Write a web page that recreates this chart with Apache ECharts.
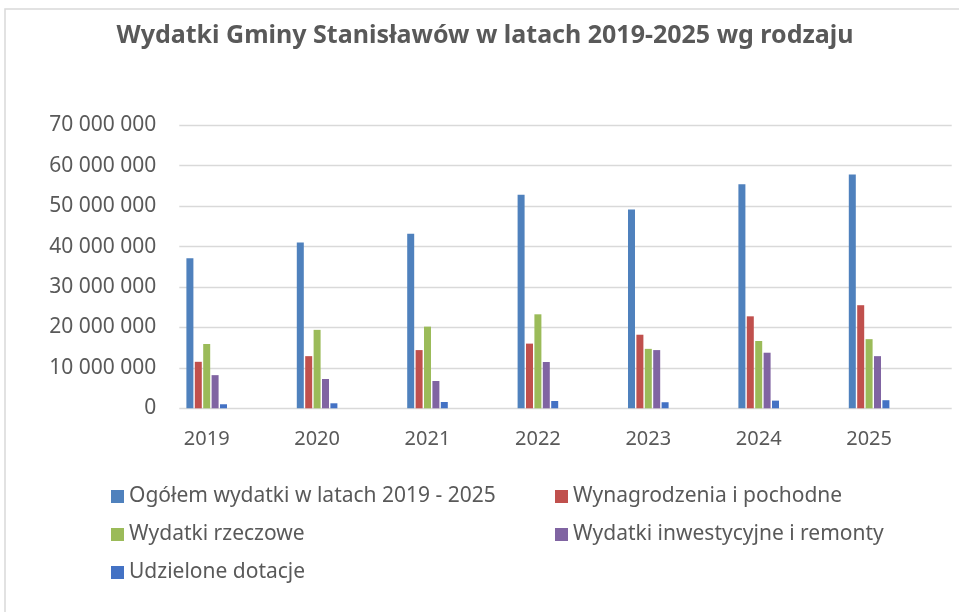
<!DOCTYPE html>
<html>
<head>
<meta charset="utf-8">
<script src="https://cdn.jsdelivr.net/npm/echarts@6/dist/echarts.min.js"></script>
<style>
html,body{margin:0;padding:0;background:#fff;}
#chart{width:959px;height:612px;}
</style>
</head>
<body>
<div id="chart"></div>
<script>
var years = ['2019','2020','2021','2022','2023','2024','2025'];
var seriesNames = ['Ogółem wydatki w latach 2019 - 2025','Wynagrodzenia i pochodne','Wydatki rzeczowe','Wydatki inwestycyjne i remonty','Udzielone dotacje'];
var ogolem = [37100000, 41000000, 43200000, 52800000, 49200000, 55400000, 57800000];
var wynagrodzenia = [11500000, 12900000, 14400000, 16000000, 18200000, 22750000, 25500000];
var rzeczowe = [15900000, 19400000, 20200000, 23250000, 14700000, 16650000, 17100000];
var inwestycyjne = [8200000, 7250000, 6750000, 11450000, 14400000, 13750000, 12900000];
var dotacje = [1000000, 1240000, 1560000, 1800000, 1500000, 1900000, 2000000];
var yTicks = [0, 10000000, 20000000, 30000000, 40000000, 50000000, 60000000, 70000000];

var colors = ['#4F81BD','#C0504D','#9BBB59','#8064A2','#4472C4'];
var dataSets = [ogolem, wynagrodzenia, rzeczowe, inwestycyjne, dotacje];
var font = 'Noto Sans';
var txt = '#595959';

function fmt(v){
  return String(v).replace(/\B(?=(\d{3})+(?!\d))/g, ' ');
}

var chart = echarts.init(document.getElementById('chart'));
var series = dataSets.map(function(d, i){
  return {
    name: seriesNames[i], type: 'bar', xAxisIndex: 0, yAxisIndex: 0,
    data: d, barWidth: 7, barGap: '20%',
    itemStyle: {color: colors[i]}
  };
});
var legendStyle = {fontFamily: font, fontSize: 21, color: txt, lineHeight: 21};
chart.setOption({
  backgroundColor: '#fff',
  animation: false,
  color: colors,
  graphic: [{
    type: 'rect', shape: {x: 5, y: 9, width: 1100, height: 800},
    style: {fill: 'none', stroke: '#d9d9d9', lineWidth: 1.5}, silent: true
  }],
  title: {
    text: 'Wydatki Gminy Stanisławów w latach 2019-2025 wg rodzaju',
    left: 480, top: 18, textAlign: 'center',
    textStyle: {fontFamily: font, fontSize: 25, fontWeight: 'bold', color: txt}
  },
  legend: [{
    data: [seriesNames[0], seriesNames[2], seriesNames[4]],
    orient: 'vertical', left: 106, top: 481, itemWidth: 13, itemHeight: 13,
    icon: 'rect', itemGap: 17, textStyle: legendStyle
  },{
    data: [seriesNames[1], seriesNames[3]],
    orient: 'vertical', left: 550, top: 481, itemWidth: 13, itemHeight: 13,
    icon: 'rect', itemGap: 17, textStyle: legendStyle
  }],
  grid: [
    {left: 151.5, width: 772.8, top: 125.3, height: 283, containLabel: false},
    {left: 179.3, width: 772.4, top: 125.3, height: 283, containLabel: false}
  ],
  xAxis: [{
    gridIndex: 0, type: 'category', data: years,
    axisLine: {show: false}, axisTick: {show: false},
    axisLabel: {fontFamily: font, fontSize: 20, color: txt, margin: 21}
  },{
    gridIndex: 1, type: 'category', data: years, show: false
  }],
  yAxis: [{
    gridIndex: 0, type: 'value', min: 0, max: 70000000, interval: 10000000, show: false
  },{
    gridIndex: 1, type: 'value', min: 0, max: 70000000, interval: 10000000,
    axisLine: {show: false}, axisTick: {show: false},
    splitLine: {lineStyle: {color: '#d9d9d9', width: 1.3}},
    axisLabel: {fontFamily: font, fontSize: 21, color: txt, margin: 23, formatter: function(v){return fmt(v);}}
  }],
  series: series
});
</script>
</body>
</html>
